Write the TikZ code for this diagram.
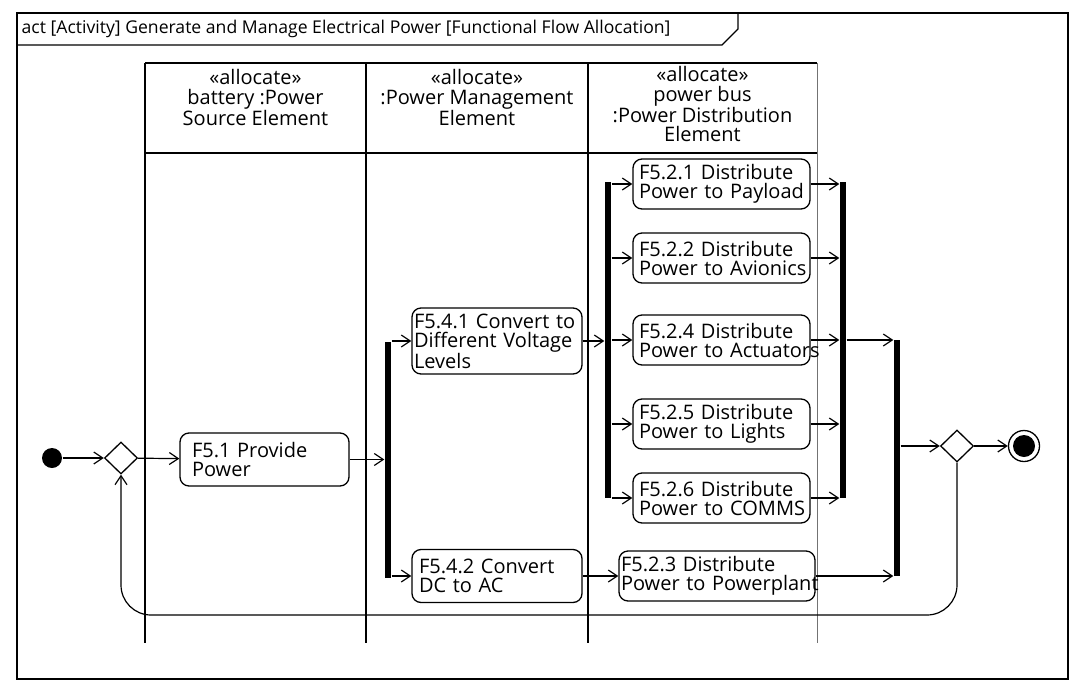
\documentclass[tikz,border=0pt]{standalone}
\usepackage{fontspec}
\setmainfont{Open Sans}
\usetikzlibrary{shapes.geometric,arrows.meta}
\tikzset{
  act/.style={draw, line width=1.3pt, rounded corners=9pt, align=left, inner xsep=2pt, inner ysep=0pt, font=\fontsize{20}{19}\selectfont},
  bar/.style={fill=black, rectangle, inner sep=0pt, minimum width=6pt},
  flow/.style={line width=1.2pt, -{Straight Barb[length=9pt,width=12pt,line width=1.2pt]}},
  lanehead/.style={anchor=north, align=center, inner sep=0pt, font=\fontsize{20}{19.5}\selectfont},
}
\begin{document}
\begin{tikzpicture}[x=1pt,y=-1pt, line width=1.3pt]
    \useasboundingbox (0,0) rectangle (1080,689);
    \draw [line width=2pt] (17,13) rectangle (1068,679);
    \draw (17,45) -- (722,45) -- (738,29) -- (738,13);
    \node [anchor=west, inner sep=0pt, font=\fontsize{17.6}{18}\selectfont] (title) at (21,29) {act [Activity] Generate and Manage Electrical Power [Functional Flow Allocation]};
    \draw (145,63) -- (817,63);
    \draw (145,153) -- (817,153);
    \draw (145,63) -- (145,643);
    \draw (366,63) -- (366,643);
    \draw (588,63) -- (588,643);
    \draw [black!55, line width=1pt] (817,63) -- (817,643);
    \node [lanehead] (battery) at (255.5,69) {«allocate»\\battery :Power\\Source Element};
    \node [lanehead] (pmgmt) at (477,69) {«allocate»\\:Power Management\\Element};
    \node [lanehead] (pbus) at (702.5,66) {«allocate»\\power bus\\:Power Distribution\\Element};
    \node [circle, fill=black, minimum size=20pt, inner sep=0pt] (init) at (52,458) {};
    \node [diamond, draw, inner sep=0pt, minimum width=33pt, minimum height=32pt] (merge) at (121,458) {};
    \node [act, minimum width=169pt, minimum height=53pt, text width=145pt, inner xsep=12pt] (f51) at (264.5,459.5) {F5.1 Provide\\Power};
    \node [bar, minimum height=236pt] (fork1) at (388,460) {};
    \node [act, minimum width=170pt, minimum height=66pt, text width=166pt] (f541) at (497,341) {\mbox{F5.4.1 Convert to}\\Different Voltage\\Levels};
    \node [act, minimum width=170pt, minimum height=53pt, text width=156pt, inner xsep=7pt] (f542) at (497,576) {F5.4.2 Convert\\DC to AC};
    \node [bar, minimum height=316pt] (fork2) at (608,340) {};
    \node [act, minimum width=177pt, minimum height=50pt, text width=165pt, inner xsep=6pt] (f521) at (721.5,184) {F5.2.1 Distribute\\\mbox{Power to Payload}};
    \node [act, minimum width=177pt, minimum height=50pt, text width=165pt, inner xsep=6pt] (f522) at (721.5,258) {F5.2.2 Distribute\\\mbox{Power to Avionics}};
    \node [act, minimum width=177pt, minimum height=50pt, text width=165pt, inner xsep=6pt] (f524) at (721.5,340) {F5.2.4 Distribute\\\mbox{Power to Actuators}};
    \node [act, minimum width=177pt, minimum height=50pt, text width=165pt, inner xsep=6pt] (f525) at (721.5,424) {F5.2.5 Distribute\\\mbox{Power to Lights}};
    \node [act, minimum width=177pt, minimum height=50pt, text width=165pt, inner xsep=6pt] (f526) at (721.5,498) {F5.2.6 Distribute\\\mbox{Power to COMMS}};
    \node [act, minimum width=196pt, minimum height=50pt, text width=192pt] (f523) at (717,576) {F5.2.3 Distribute\\\mbox{Power to Powerplant}};
    \node [bar, minimum height=316pt] (join3) at (843,340) {};
    \node [bar, minimum height=236pt] (join4) at (897,458) {};
    \node [diamond, draw, inner sep=0pt, minimum width=33pt, minimum height=32pt] (dec) at (957,446) {};
    \node [circle, draw, minimum size=31pt, inner sep=0pt] (final) at (1024,446) {};
    \fill (final) circle (11pt);
    \draw [flow] (init) -- (merge);
    \draw [flow] (merge) -- (f51);
    \draw [flow] (f51.east) -- (f51.east -| fork1.west);
    \draw [flow] (fork1.east |- f541.west) -- (f541.west);
    \draw [flow] (fork1.east |- f542.west) -- (f542.west);
    \draw [flow] (f541.east) -- (f541.east -| fork2.west);
    \foreach \n in {f521,f522,f524,f525,f526} {
        \draw [flow] (fork2.east |- \n.west) -- (\n.west);
        \draw [flow] (\n.east) -- (\n.east -| join3.west);
    }
    \draw [flow] (f542.east) -- (f542.east -| f523.west);
    \draw [flow] (f523.east) -- (f523.east -| join4.west);
    \draw [flow] (join3.east |- f524.east) -- (f524.east -| join4.west);
    \draw [flow] (join4.east |- dec.west) -- (dec.west);
    \draw [flow] (dec) -- (final);
    \coordinate (loop) at (0,615);
    \draw [flow, rounded corners=30pt] (dec.south) -- (dec.south |- loop) -- (merge.south |- loop) -- (merge.south);
\end{tikzpicture}
\end{document}
